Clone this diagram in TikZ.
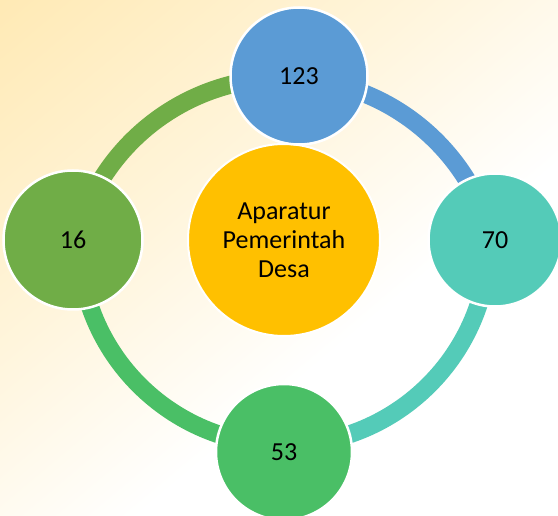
\documentclass[tikz,border=0pt]{standalone}
\usepackage{fontspec}
\setmainfont{Carlito}
\definecolor{cblue}{HTML}{5B9BD5}
\definecolor{cteal}{HTML}{54CBB8}
\definecolor{colive}{HTML}{70AD47}
\definecolor{cgreen}{HTML}{4ABF66}
\definecolor{cyellow}{HTML}{FFC000}
\definecolor{bgtop}{HTML}{FFE39E}
\definecolor{bgmid}{HTML}{FFF5DC}
\pgfdeclareverticalshading{bgsh}{100bp}{color(0bp)=(white); color(40bp)=(white); color(60bp)=(bgmid); color(100bp)=(bgtop)}
\begin{document}
\begin{tikzpicture}[x=1pt,y=-1pt,
  bubble/.style={circle, draw=white, line width=2.5pt, inner sep=0pt,
    minimum size=#1, font=\fontsize{26}{29}\selectfont, text=black, align=center},
  ringarc/.style={line width=18pt, draw=#1}]
\useasboundingbox (0,0) rectangle (558,516);
\clip (0,0) rectangle (558,516);
\shade[shading=bgsh, shading angle=40] (0,0) rectangle (558,516);
% arc centres
\coordinate (uc) at (284,293);
\coordinate (lc) at (284,240);
% ring arcs
\draw[ringarc=colive] (uc) ++(194:215) arc[start angle=194, end angle=274, radius=215];
\draw[ringarc=cblue]  (uc) ++(274:215) arc[start angle=274, end angle=346, radius=215];
\draw[ringarc=cteal]  (lc) ++(0:205) arc[start angle=0, end angle=90, radius=205];
\draw[ringarc=cgreen] (lc) ++(90:205) arc[start angle=90, end angle=180, radius=205];
% centre
\node[bubble=192pt, line width=2pt, fill=cyellow] (ctr) at (284,240) {Aparatur\\Pemerintah\\Desa};
% outer circles
\node[bubble=137pt, fill=cblue]  (n123) at (299,76) {123};
\node[bubble=139pt, fill=colive] (n16)  at (73,240) {16};
\node[bubble=133pt, fill=cteal]  (n70)  at (495,240) {70};
\node[bubble=136pt, fill=cgreen] (n53)  at (284,452) {53};
\end{tikzpicture}
\end{document}
